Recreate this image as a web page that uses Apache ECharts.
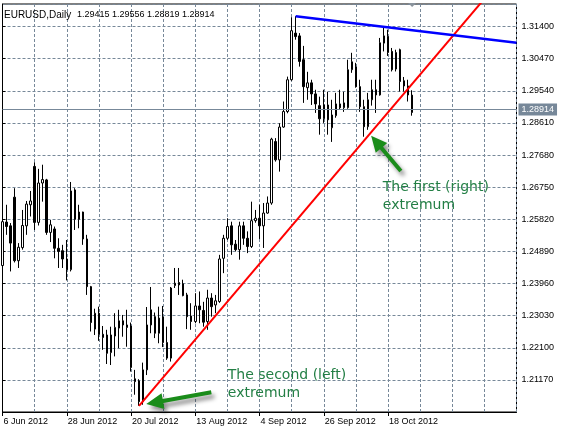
<!DOCTYPE html>
<html><head><meta charset="utf-8">
<script src="https://cdn.jsdelivr.net/npm/echarts@6/dist/echarts.min.js"></script>
<style>html,body{margin:0;padding:0;background:#fff}#c{width:570px;height:433px}</style>
</head><body><div id="c"></div>
<script>
// ---------- data ----------
const symbolTitle = 'EURUSD,Daily';
const headerValues = ['1.29415', '1.29556', '1.28819', '1.28914'];
const firstDate = [2012, 5, 6];   // 6 Jun 2012, first daily bar
const totalSlots = 129;           // bars + empty space on the right
const open  = [1.2448,1.2574,1.2563,1.2646,1.2462,1.2500,1.2563,1.2624,1.2735,1.2573,1.2687,1.2696,1.2544,1.2554,1.2498,1.2491,1.2467,1.2436,1.2667,1.2582,1.2603,1.2525,1.2387,1.2264,1.2310,1.2249,1.2247,1.2196,1.2244,1.2267,1.2288,1.2276,1.2273,1.2120,1.2114,1.2054,1.2146,1.2276,1.2300,1.2252,1.2299,1.2225,1.2180,1.2390,1.2399,1.2395,1.2363,1.2302,1.2286,1.2331,1.2318,1.2286,1.2354,1.2334,1.2344,1.2469,1.2527,1.2563,1.2510,1.2494,1.2563,1.2527,1.2503,1.2578,1.2585,1.2563,1.2600,1.2629,1.2807,1.2754,1.2849,1.2894,1.2986,1.3121,1.3113,1.3044,1.2963,1.2977,1.2945,1.2911,1.2873,1.2913,1.2847,1.2882,1.2916,1.2905,1.2905,1.3015,1.3023,1.2966,1.2908,1.2850,1.2928,1.2957,1.2942,1.3092,1.3111,1.3068,1.3017,1.3073,1.2983,1.2968,1.29415];
const high  = [1.2579,1.2624,1.2571,1.2672,1.2513,1.2609,1.2635,1.2664,1.2747,1.2728,1.2740,1.2699,1.2580,1.2561,1.2527,1.2508,1.2522,1.2690,1.2672,1.2624,1.2604,1.2537,1.2389,1.2323,1.2329,1.2273,1.2262,1.2271,1.2310,1.2320,1.2305,1.2320,1.2283,1.2146,1.2119,1.2167,1.2328,1.2386,1.2312,1.2329,1.2331,1.2271,1.2386,1.2441,1.2441,1.2407,1.2369,1.2339,1.2368,1.2373,1.2343,1.2378,1.2368,1.2363,1.2479,1.2537,1.2585,1.2575,1.2522,1.2575,1.2575,1.2547,1.2633,1.2609,1.2624,1.2629,1.2648,1.2818,1.2817,1.2860,1.2923,1.2995,1.3167,1.3170,1.3121,1.3084,1.3009,1.2986,1.2957,1.2937,1.2957,1.2951,1.2928,1.2948,1.2957,1.2951,1.3044,1.3064,1.3035,1.2986,1.2928,1.2948,1.2986,1.2986,1.3107,1.3140,1.3131,1.3078,1.3073,1.3076,1.2994,1.2986,1.29556];
const low   = [1.2444,1.2537,1.2431,1.2457,1.2441,1.2494,1.2537,1.2590,1.2551,1.2564,1.2633,1.2537,1.2516,1.2469,1.2441,1.2441,1.2405,1.2431,1.2551,1.2556,1.2508,1.2363,1.2257,1.2247,1.2230,1.2204,1.2163,1.2160,1.2185,1.2209,1.2242,1.2213,1.2141,1.2074,1.2042,1.2045,1.2131,1.2252,1.2238,1.2223,1.2212,1.2175,1.2170,1.2383,1.2363,1.2359,1.2264,1.2262,1.2281,1.2281,1.2271,1.2262,1.2300,1.2310,1.2340,1.2426,1.2522,1.2479,1.2489,1.2465,1.2508,1.2484,1.2499,1.2572,1.2525,1.2499,1.2598,1.2624,1.2749,1.2720,1.2847,1.2889,1.2983,1.3102,1.3024,1.2919,1.2928,1.2913,1.2890,1.2827,1.2861,1.2827,1.2806,1.2876,1.2899,1.2893,1.2902,1.3006,1.2963,1.2893,1.2821,1.2841,1.2911,1.2890,1.2940,1.3068,1.3055,1.3010,1.3010,1.2952,1.2952,1.2923,1.28819];
const close = [1.2575,1.2561,1.2513,1.2462,1.2501,1.2564,1.2626,1.2635,1.2573,1.2687,1.2697,1.2544,1.2566,1.2498,1.2489,1.2467,1.2436,1.2664,1.2582,1.2603,1.2525,1.2387,1.2283,1.2310,1.2249,1.2240,1.2194,1.2247,1.2269,1.2288,1.2276,1.2269,1.2153,1.2112,1.2054,1.2146,1.2276,1.2320,1.2252,1.2296,1.2225,1.2180,1.2383,1.2397,1.2392,1.2361,1.2300,1.2286,1.2331,1.2320,1.2284,1.2354,1.2329,1.2346,1.2467,1.2527,1.2561,1.2508,1.2494,1.2563,1.2527,1.2503,1.2578,1.2585,1.2563,1.2600,1.2629,1.2814,1.2754,1.2849,1.2894,1.2986,1.3128,1.3111,1.3039,1.2966,1.2977,1.2945,1.2916,1.2873,1.2913,1.2870,1.2884,1.2916,1.2905,1.2919,1.3015,1.3038,1.2966,1.2908,1.2850,1.2928,1.2957,1.2942,1.3093,1.3113,1.3065,1.3015,1.3065,1.2981,1.2968,1.2942,1.28914];
const lastPrice = 1.28914;
const xTickLabels = ['6 Jun 2012','28 Jun 2012','20 Jul 2012','13 Aug 2012','4 Sep 2012','26 Sep 2012','18 Oct 2012'];
const yMin = 1.2024, yMax = 1.32053, yStep = 0.0093;   // ticks 1.21170 ... 1.31400
// trend lines in (bar index, price)
const supportLine    = [[34, 1.2042], [128, 1.3330]];
const resistanceLine = [[73, 1.3170], [128, 1.3093]];
// annotations in (bar index, price)
const arrowFirst  = {tail: [99.2, 1.2722], tip: [91.8, 1.2824]};
const arrowSecond = {tail: [52.0, 1.2081], tip: [35.8, 1.2047]};
const labelFirst  = {at: [94.7, 1.2673], text: 'The first (right)\nextremum'};
const labelSecond = {at: [56.1, 1.2131], text: 'The second (left)\nextremum'};

// ---------- build ----------
const months = ['Jan','Feb','Mar','Apr','May','Jun','Jul','Aug','Sep','Oct','Nov','Dec'];
const categories = [];
{ let d = new Date(Date.UTC(firstDate[0], firstDate[1], firstDate[2]));
  while (categories.length < totalSlots) {
    const wd = d.getUTCDay();
    if (wd !== 0 && wd !== 6) categories.push(d.getUTCDate() + ' ' + months[d.getUTCMonth()] + ' ' + d.getUTCFullYear());
    d.setUTCDate(d.getUTCDate() + 1);
  } }
const nBars = open.length;
const candles = open.map((o, i) => [o, close[i], low[i], high[i]]);
const showLabel = (i) => i % 16 === 0 && i < nBars && xTickLabels.indexOf(categories[i]) >= 0;

const GRID = '#778899';
const FONT = '"Liberation Sans", Arial, sans-serif';
const small = {fontFamily: FONT, fontSize: 9, color: '#000'};
const chart = echarts.init(document.getElementById('c'), null, {renderer: 'canvas'});
chart.setOption({
  animation: false,
  backgroundColor: '#fff',
  grid: {left: 2.5, top: 4, width: 514, height: 408, show: true, borderColor: '#000', borderWidth: 1,
         backgroundColor: '#fff', containLabel: false, outerBoundsMode: 'none'},
  xAxis: [{
    type: 'category', data: categories, boundaryGap: false,
    axisLine: {show: true, lineStyle: {color: '#000', width: 1}},
    axisTick: {show: true, interval: showLabel, length: 4, lineStyle: {color: '#000'}},
    axisLabel: Object.assign({interval: showLabel, align: 'left', margin: 5, padding: [0,0,0,1],
                 formatter: (v) => v}, small),
    splitLine: {show: true, interval: (i) => i % 8 === 0, lineStyle: {color: GRID, type: [3, 2], width: 1}}
  }, {
    type: 'value', min: 0, max: totalSlots - 1, show: false
  }],
  yAxis: [{
    type: 'value', position: 'right', min: yMin, max: yMax, interval: yStep, scale: true,
    axisLine: {show: true, lineStyle: {color: '#000', width: 1}},
    axisTick: {show: true, length: 3, lineStyle: {color: '#000'}},
    axisLabel: Object.assign({showMinLabel: false, showMaxLabel: false, margin: 5,
                 formatter: (v) => v.toFixed(5)}, small),
    splitLine: {show: true, lineStyle: {color: GRID, type: [3, 2], width: 1}}
  }],
  series: [{
    type: 'candlestick', xAxisIndex: 0, yAxisIndex: 0, data: candles, barWidth: 2,
    itemStyle: {color: '#fff', color0: '#000', borderColor: '#000', borderColor0: '#000', borderWidth: 1},
    emphasis: {disabled: true}, silent: true,
    markLine: {
      silent: true, symbol: 'none', animation: false,
      data: [{yAxis: lastPrice}],
      lineStyle: {color: GRID, type: 'solid', width: 1},
      label: {show: true, position: 'end', distance: 2, formatter: lastPrice.toFixed(5),
              backgroundColor: GRID, color: '#fff', padding: [2, 3, 1, 3],
              fontFamily: FONT, fontSize: 9}
    }
  }, {
    type: 'line', xAxisIndex: 1, yAxisIndex: 0, data: supportLine, symbol: 'none', silent: true,
    lineStyle: {color: '#ff0000', width: 2}, clip: true, z: 5
  }, {
    type: 'line', xAxisIndex: 1, yAxisIndex: 0, data: resistanceLine, symbol: 'none', silent: true,
    lineStyle: {color: '#0000ff', width: 2.5}, clip: true, z: 5
  }]
});

const px = (p) => chart.convertToPixel({seriesIndex: 1}, p);
function arrowShape(a, shaft, headLen, headW) {
  const t = px(a.tail), h = px(a.tip);
  const dx = h[0] - t[0], dy = h[1] - t[1], L = Math.hypot(dx, dy);
  const ux = dx / L, uy = dy / L, nx = -uy, ny = ux;
  const bx = h[0] - ux * headLen, by = h[1] - uy * headLen;
  return [
    [t[0] + nx * shaft / 2, t[1] + ny * shaft / 2],
    [bx + nx * shaft / 2, by + ny * shaft / 2],
    [bx + nx * headW / 2, by + ny * headW / 2],
    [h[0], h[1]],
    [bx - nx * headW / 2, by - ny * headW / 2],
    [bx - nx * shaft / 2, by - ny * shaft / 2],
    [t[0] - nx * shaft / 2, t[1] - ny * shaft / 2]
  ];
}
const ARROW = '#1a8c1a', TEXT = '#237f45';
const annFont = '14px "DejaVu Sans", Verdana, sans-serif';
const l1 = px(labelFirst.at), l2 = px(labelSecond.at);
const lastX = chart.convertToPixel({xAxisIndex: 0}, nBars - 1);
const shadow = {shadowBlur: 4, shadowColor: 'rgba(0,0,0,0.45)', shadowOffsetX: 3, shadowOffsetY: 4};
chart.setOption({
  graphic: [
    {type: 'text', left: 4, top: 10, silent: true,
     style: {text: symbolTitle, font: '10px ' + FONT, fill: '#000'}},
    ...headerValues.map((v, i) => ({type: 'text', x: 77 + i * 35, y: 10, silent: true,
     style: {text: v, font: '9px ' + FONT, fill: '#000'}})),
    {type: 'polygon', silent: true, shape: {points: [[lastX - 4, 3], [lastX + 4, 3], [lastX, 7]]},
     style: {fill: '#8a939c'}},
    {type: 'polygon', silent: true, z: 100, shape: {points: arrowShape(arrowFirst, 4, 16, 15)},
     style: Object.assign({fill: ARROW}, shadow)},
    {type: 'polygon', silent: true, z: 100, shape: {points: arrowShape(arrowSecond, 4, 17, 16)},
     style: Object.assign({fill: ARROW}, shadow)},
    {type: 'text', x: l1[0], y: l1[1] - 9, silent: true, z: 100,
     style: {text: labelFirst.text, font: annFont, fill: TEXT, lineHeight: 18, verticalAlign: 'top'}},
    {type: 'text', x: l2[0], y: l2[1] - 9, silent: true, z: 100,
     style: {text: labelSecond.text, font: annFont, fill: TEXT, lineHeight: 18, verticalAlign: 'top'}}
  ]
});
</script></body></html>
